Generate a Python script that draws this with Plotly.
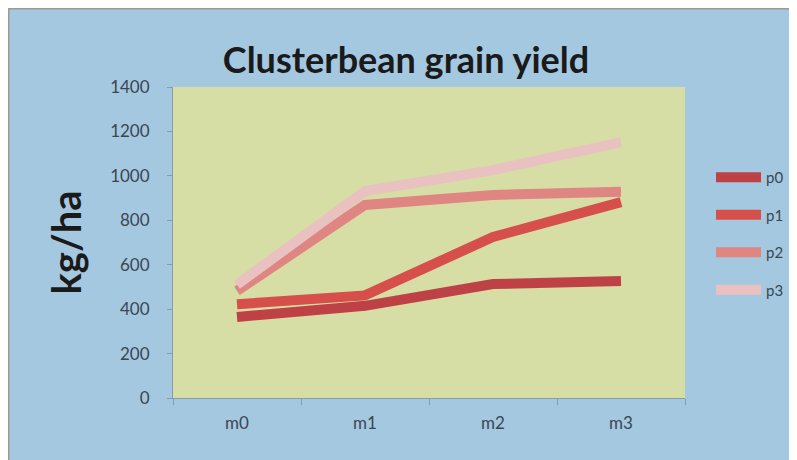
import plotly.graph_objects as go

categories = ["m0", "m1", "m2", "m3"]
series_names = ["p0", "p1", "p2", "p3"]
p0 = [365, 415, 513, 527]
p1 = [422, 462, 725, 882]
p2 = [482, 869, 914, 928]
p3 = [510, 932, 1026, 1152]
series_values = [p0, p1, p2, p3]
colors = ["#BE4245", "#D64F4A", "#DF8682", "#E8C1C0"]
y_ticks = [0, 200, 400, 600, 800, 1000, 1200, 1400]

# figure is placed by the page at (8, 8); coordinates below are figure pixels
W, H = 789, 452
L, T = 165, 79
pw, ph = 512, 311
R, B = W - L - pw, H - T - ph

def px_x(x):
    return (x - L) / pw

def px_y(y):
    return (H - B - y) / ph

fig = go.Figure()
for name, vals, col in zip(series_names, series_values, colors):
    fig.add_trace(go.Scatter(
        x=categories, y=vals, name=name, mode="lines",
        line=dict(color=col, width=10), legendgroup=name,
    ))

blue = "#A5C8E1"
shapes = [
    dict(type="line", xref="paper", yref="paper", x0=px_x(0), x1=px_x(W + 5), y0=px_y(0.75), y1=px_y(0.75),
         line=dict(color="#9A9C96", width=1.5), layer="below"),
    dict(type="line", xref="paper", yref="paper", x0=px_x(0.75), x1=px_x(0.75), y0=px_y(H + 5), y1=px_y(0),
         line=dict(color="#9A9C96", width=1.5), layer="below"),
]

axis_col = "#8A9AA6"
tick_font = dict(family="Lato", size=17, color="#3A4650")

fig.update_layout(
    width=W, height=H,
    margin=dict(l=L, r=R, t=T, b=B, pad=0, autoexpand=False),
    paper_bgcolor=blue,
    plot_bgcolor="#D6DEA6",
    shapes=shapes,
    title=dict(text="<b>Clusterbean grain yield</b>", xref="container", x=398 / W, xanchor="center",
               yref="container", y=1 - 52 / H, yanchor="middle",
               font=dict(family="Lato", size=36, color="#1A1A1A")),
    xaxis=dict(type="category", range=[-0.5, 3.5], tickson="boundaries", ticks="outside", ticklen=6,
               tickcolor=axis_col, showline=True, linecolor=axis_col, linewidth=1,
               showgrid=False, zeroline=False, ticklabelstandoff=10,
               tickfont=tick_font),
    yaxis=dict(range=[0, 1400], tickvals=y_ticks, ticks="outside", ticklen=5,
               tickcolor=axis_col, showline=True, linecolor=axis_col, linewidth=1,
               showgrid=False, zeroline=False, ticklabelstandoff=14,
               tickfont=tick_font,
               title=dict(text="<b>kg/ha</b>", standoff=16,
                          font=dict(family="Lato", size=40, color="#1A1A1A"))),
    legend=dict(xref="container", yref="container", x=703 / W, y=1 - 153 / H,
                xanchor="left", yanchor="top",
                bgcolor="rgba(0,0,0,0)", font=dict(family="Lato", size=15, color="#3A4650"),
                tracegroupgap=15, itemwidth=45, traceorder="grouped"),
    showlegend=True,
)

fig.write_html("out.html")
